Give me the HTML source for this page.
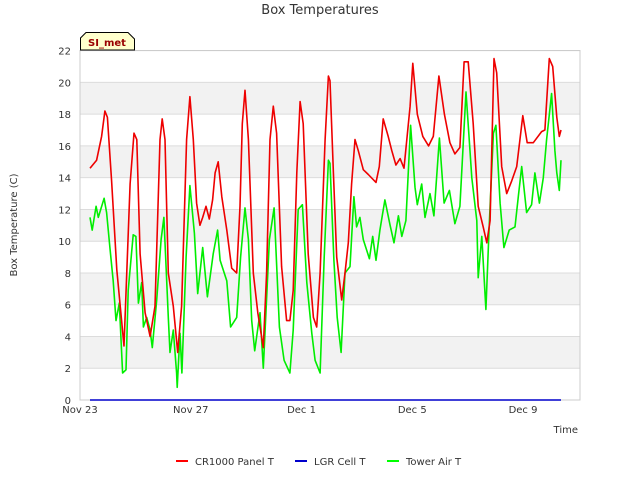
<!DOCTYPE html>
<html><head><meta charset="utf-8"><style>
body{margin:0;background:#fff;font-family:"Liberation Sans","DejaVu Sans",sans-serif}
svg text{font-family:"DejaVu Sans","Liberation Sans",sans-serif}
</style></head><body>
<svg id="c" width="640" height="480" viewBox="0 0 640 480">
<rect width="640" height="480" fill="#fff"/>
<g id="bands"></g><g id="grid"></g>
<rect x="80" y="50.5" width="500" height="349.5" fill="none" stroke="#ccc"/>
<g id="series"></g><g id="axes"></g>
<text x="320" y="14" text-anchor="middle" font-size="13" fill="#333">Box Temperatures</text>
<text transform="translate(17,225) rotate(-90)" text-anchor="middle" font-size="10" fill="#333">Box Temperature (C)</text>
<text x="578" y="433" text-anchor="end" font-size="10" fill="#333">Time</text>
<g>
<path d="M80.5,50 L80.5,38 L86,32.5 L128,32.5 L134.5,39 L134.5,50 Z" fill="#ffffcc" stroke="#000"/>
<text x="107" y="46" text-anchor="middle" font-size="10" font-weight="bold" fill="#990000">SI_met</text></g>
<g>
<g><line x1="176" y1="461" x2="188" y2="461" stroke="#f00" stroke-width="2"/><text x="195" y="465" font-size="10" fill="#333">CR1000 Panel T</text></g>
<g><line x1="295" y1="461" x2="307" y2="461" stroke="#00c" stroke-width="2"/><text x="314" y="465" font-size="10" fill="#333">LGR Cell T</text></g>
<g><line x1="387" y1="461" x2="399" y2="461" stroke="#0f0" stroke-width="2"/><text x="406" y="465" font-size="10" fill="#333">Tower Air T</text></g>
</g>
</svg>
<script>
const yTicks=[0,2,4,6,8,10,12,14,16,18,20,22];
const xTickDays=[0,4,8,12,16];
const xTickLabels=["Nov 23","Nov 27","Dec 1","Dec 5","Dec 9"];
const redDays=[0.36,0.60,0.78,0.90,0.99,1.14,1.33,1.59,1.81,1.95,2.05,2.17,2.35,2.53,2.71,2.89,2.97,3.07,3.19,3.37,3.53,3.67,3.85,3.97,4.09,4.21,4.33,4.43,4.55,4.67,4.79,4.88,4.99,5.12,5.30,5.48,5.66,5.78,5.86,5.96,6.08,6.26,6.42,6.62,6.74,6.86,6.98,7.10,7.28,7.46,7.58,7.70,7.83,7.95,8.06,8.24,8.43,8.55,8.67,8.85,8.97,9.03,9.15,9.27,9.45,9.57,9.69,9.81,9.93,10.05,10.23,10.41,10.69,10.81,10.95,11.13,11.26,11.41,11.56,11.70,11.92,12.02,12.18,12.38,12.59,12.76,12.96,13.16,13.36,13.54,13.72,13.87,14.02,14.20,14.38,14.56,14.69,14.81,14.95,15.05,15.23,15.41,15.59,15.77,15.99,16.15,16.37,16.67,16.79,16.95,17.07,17.22,17.31,17.37];
const redVals=[14.6,15.1,16.6,18.2,17.8,13.8,8.2,3.4,13.6,16.8,16.4,9.2,5.5,4.0,5.9,16.4,17.7,16.4,8.0,5.9,3.0,5.9,16.4,19.1,16.4,12.4,11.0,11.5,12.2,11.4,12.6,14.3,15.0,12.8,10.7,8.3,8.0,12.2,17.4,19.5,16.4,8.0,5.5,3.3,8.0,16.4,18.5,16.8,8.4,5.0,5.0,6.9,14.3,18.8,17.4,9.2,5.2,4.6,8.0,16.4,20.4,20.1,14.3,9.0,6.3,8.0,9.9,13.6,16.4,15.7,14.5,14.2,13.7,14.7,17.7,16.6,15.7,14.8,15.2,14.6,18.5,21.2,18.0,16.6,16.0,16.6,20.4,18.0,16.2,15.5,15.9,21.3,21.3,17.4,12.2,10.9,9.9,11.3,21.5,20.6,14.7,13.0,13.8,14.7,17.9,16.2,16.2,16.9,17.0,21.5,21.0,17.8,16.6,17.0];
const greenDays=[0.36,0.44,0.58,0.66,0.87,0.96,1.08,1.20,1.30,1.42,1.54,1.66,1.74,1.92,2.02,2.11,2.23,2.29,2.41,2.53,2.61,2.77,2.93,3.03,3.19,3.25,3.37,3.49,3.51,3.61,3.68,3.83,3.97,4.13,4.25,4.43,4.60,4.81,4.97,5.06,5.30,5.44,5.66,5.80,5.96,6.08,6.20,6.31,6.50,6.62,6.84,7.01,7.20,7.37,7.58,7.70,7.88,8.03,8.19,8.37,8.49,8.67,8.82,8.97,9.03,9.17,9.29,9.43,9.57,9.75,9.89,9.99,10.11,10.23,10.45,10.57,10.69,10.83,11.01,11.20,11.34,11.50,11.62,11.77,11.94,12.10,12.18,12.34,12.46,12.64,12.78,12.98,13.15,13.34,13.54,13.72,13.94,14.15,14.33,14.38,14.51,14.66,14.78,14.93,15.02,15.17,15.31,15.50,15.71,15.83,15.95,16.13,16.31,16.43,16.59,16.73,16.85,17.03,17.15,17.22,17.31,17.37];
const greenVals=[11.5,10.7,12.2,11.5,12.7,11.8,9.6,7.5,5.0,6.1,1.7,1.9,6.9,10.4,10.3,6.1,7.4,4.6,5.2,4.4,3.3,6.3,10.1,11.5,5.2,3.0,4.4,1.7,0.8,4.2,1.7,9.0,13.5,10.5,6.7,9.6,6.5,9.2,10.7,8.8,7.5,4.6,5.2,9.0,12.1,10.1,5.0,3.1,5.5,2.0,10.1,12.1,4.6,2.5,1.7,4.4,12.0,12.3,7.4,4.2,2.5,1.7,9.0,15.1,14.9,8.8,5.2,3.0,8.0,8.4,12.8,10.9,11.5,10.1,8.9,10.3,8.8,10.7,12.6,11.0,9.9,11.6,10.3,11.3,17.3,13.4,12.3,13.6,11.5,13.0,11.6,16.5,12.4,13.2,11.1,12.2,19.4,14.0,11.3,7.7,10.3,5.7,11.1,16.8,17.3,12.4,9.6,10.7,10.9,12.8,14.7,11.8,12.3,14.3,12.4,14.0,16.4,19.3,15.7,14.3,13.2,15.1];
const lgrDays=[0.36,17.37];
const lgrVals=[0,0];

const NS="http://www.w3.org/2000/svg";
const X0=80,PXD=27.69,Y0=400,PXU=15.88,XR=580;
const xs=d=>X0+d*PXD, ys=v=>Y0-v*PXU;
function mk(tag,attrs,parent){const e=document.createElementNS(NS,tag);for(const k in attrs)e.setAttribute(k,attrs[k]);document.getElementById(parent).appendChild(e);return e;}
for(let i=0;i<yTicks.length-1;i++){
  if(i%2===1){const r=mk('rect',{x:X0,y:ys(yTicks[i+1]),width:XR-X0,height:ys(yTicks[i])-ys(yTicks[i+1]),fill:'#f2f2f2'},'bands');
  
  }
}
yTicks.forEach(v=>{
  const l=mk('line',{x1:X0,x2:XR,y1:ys(v),y2:ys(v),stroke:'#dcdcdc'},'grid');
  
  
  const t=mk('text',{x:71,y:ys(v)+4,'text-anchor':'end','font-size':10,fill:'#333'},'axes');
  t.textContent=v;
  
  
});
xTickDays.forEach((d,i)=>{
  const t=mk('text',{x:xs(d),y:413,'text-anchor':'middle','font-size':10,fill:'#333'},'axes');
  t.textContent=xTickLabels[i];
  
  
});
function line(days,vals,color,name){
  const p=mk('polyline',{points:days.map((d,i)=>xs(d).toFixed(1)+','+ys(vals[i]).toFixed(1)).join(' '),fill:'none',stroke:color,'stroke-width':1.6,'stroke-linejoin':'round'},'series');
  
  
}
line(lgrDays,lgrVals,'#0000cc','lgr-cell-t-line');
line(greenDays,greenVals,'#00ee00','tower-air-t-line');
line(redDays,redVals,'#ee0000','cr1000-panel-t-line');
</script>
</body></html>
